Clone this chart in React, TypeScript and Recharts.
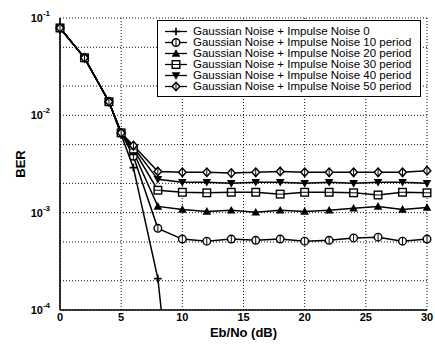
import React from 'react';
import { LineChart, Line, XAxis, YAxis, CartesianGrid } from 'recharts';

// Eb/No sample points (dB)
const ebno = [0, 2, 4, 5, 6, 8, 10, 12, 14, 16, 18, 20, 22, 24, 26, 28, 30];

// BER
const berNoise0 = [0.079, 0.039, 0.0138, 0.0063, 0.0029, 0.00021, 0.000001, null, null, null, null, null, null, null, null, null, null];
const ber10 = [0.079, 0.039, 0.0138, 0.0066, 0.0038, 0.00069, 5.35e-4, 5.1e-4, 5.35e-4, 5.2e-4, 5.35e-4, 5.1e-4, 5.2e-4, 5.5e-4, 5.6e-4, 5.1e-4, 5.35e-4];
const ber20 = [0.079, 0.039, 0.0138, 0.0066, 0.0042, 0.00116, 1.08e-3, 1.03e-3, 1.06e-3, 1.01e-3, 1.06e-3, 1.03e-3, 1.06e-3, 1.11e-3, 1.16e-3, 1.08e-3, 1.13e-3];
const ber30 = [0.079, 0.039, 0.0138, 0.0066, 0.0045, 0.0017, 1.62e-3, 1.6e-3, 1.62e-3, 1.62e-3, 1.55e-3, 1.62e-3, 1.62e-3, 1.6e-3, 1.52e-3, 1.62e-3, 1.6e-3];
const ber40 = [0.079, 0.039, 0.0138, 0.0066, 0.0047, 0.0022, 2.05e-3, 2.05e-3, 2.0e-3, 2.05e-3, 2.05e-3, 2.0e-3, 2.05e-3, 2.0e-3, 2.05e-3, 2.05e-3, 2.0e-3];
const ber50 = [0.079, 0.039, 0.0138, 0.0066, 0.0049, 0.00265, 2.6e-3, 2.6e-3, 2.55e-3, 2.6e-3, 2.65e-3, 2.6e-3, 2.6e-3, 2.6e-3, 2.6e-3, 2.6e-3, 2.7e-3];

const xTicks = [0, 5, 10, 15, 20, 25, 30];
const yTicks = [1e-4, 1e-3, 1e-2, 1e-1];
const decades = [1e-4, 1e-3, 1e-2];
const mantissas = [1, 2, 3, 4, 5, 6, 7, 8, 9];

const series = [
  { key: 'n0', name: 'Gaussian Noise + Impulse Noise 0', shape: 'plus', values: berNoise0 },
  { key: 'n10', name: 'Gaussian Noise + Impulse Noise 10 period', shape: 'circle', values: ber10 },
  { key: 'n20', name: 'Gaussian Noise + Impulse Noise 20 period', shape: 'triUp', values: ber20 },
  { key: 'n30', name: 'Gaussian Noise + Impulse Noise 30 period', shape: 'square', values: ber30 },
  { key: 'n40', name: 'Gaussian Noise + Impulse Noise 40 period', shape: 'triDown', values: ber40 },
  { key: 'n50', name: 'Gaussian Noise + Impulse Noise 50 period', shape: 'diamond', values: ber50 },
];

const data = ebno.map((x, i) => {
  const row: any = { ebno: x };
  series.forEach((s) => { row[s.key] = s.values[i]; });
  return row;
});

const gridY = [...decades.flatMap((d) => mantissas.map((m) => m * d)), 1e-1];

const FONT = '"Liberation Sans", Arial, sans-serif';

function Marker({ shape, cx, cy }: { shape: string; cx: number; cy: number }) {
  const r = 3.8;
  switch (shape) {
    case 'plus':
      return <path d={`M${cx - r},${cy}H${cx + r}M${cx},${cy - r}V${cy + r}`} stroke="#000" strokeWidth={1.7} />;
    case 'circle':
      return (
        <g>
          <circle cx={cx} cy={cy} r={r} fill="#fff" stroke="#000" strokeWidth={1.4} />
          <path d={`M${cx},${cy - r}V${cy + r}`} stroke="#000" strokeWidth={1} />
        </g>
      );
    case 'triUp':
      return <polygon points={`${cx},${cy - r - 0.5} ${cx + r + 0.5},${cy + r - 0.5} ${cx - r - 0.5},${cy + r - 0.5}`} fill="#000" />;
    case 'triDown':
      return <polygon points={`${cx},${cy + r + 0.5} ${cx + r + 0.5},${cy - r + 0.5} ${cx - r - 0.5},${cy - r + 0.5}`} fill="#000" />;
    case 'square':
      return (
        <g>
          <rect x={cx - r} y={cy - r} width={2 * r} height={2 * r} fill="#fff" stroke="#000" strokeWidth={1.4} />
          <path d={`M${cx - r},${cy}H${cx + r}`} stroke="#000" strokeWidth={1} />
        </g>
      );
    default:
      return (
        <g>
          <polygon points={`${cx},${cy - r - 0.5} ${cx + r},${cy} ${cx},${cy + r + 0.5} ${cx - r},${cy}`} fill="#fff" stroke="#000" strokeWidth={1.4} />
          <path d={`M${cx},${cy - r}V${cy + r}`} stroke="#000" strokeWidth={1} />
        </g>
      );
  }
}

const makeDot = (shape: string) => (props: any) => {
  const { cx, cy, index } = props;
  if (cx == null || cy == null || Number.isNaN(cy)) return <g key={`d-${shape}-${index}`} />;
  return <g key={`d-${shape}-${index}`}><Marker shape={shape} cx={cx} cy={cy} /></g>;
};

const PowTick = (props: any) => {
  const { x, y, payload } = props;
  const exp = Math.round(Math.log10(payload.value));
  return (
    <text x={x} y={y} textAnchor="end" fontFamily={FONT} fontWeight="bold" fontSize={11} fill="#000">
      <tspan dy={4}>10</tspan>
      <tspan dy={-6} fontSize={8}>{exp}</tspan>
    </text>
  );
};

const YLabel = (props: any) => {
  const { viewBox } = props;
  const x = viewBox.x + 20;
  const y = viewBox.y + viewBox.height / 2;
  return (
    <text x={x} y={y} transform={`rotate(-90 ${x} ${y})`} textAnchor="middle" dominantBaseline="central"
      fontFamily={FONT} fontWeight="bold" fontSize={13} fill="#000">BER</text>
  );
};

function LegendBox() {
  return (
    <div style={{
      position: 'absolute', left: 157, top: 20, width: 264, height: 77, boxSizing: 'border-box',
      border: '1px solid #000', background: '#fff', padding: '5px 0 0 5px', fontFamily: FONT, fontSize: 11.5,
    }}>
      {series.map((s) => (
        <div key={s.key} style={{ display: 'flex', alignItems: 'center', height: 11 }}>
          <svg width={26} height={11} style={{ marginRight: 4, flex: 'none' }}>
            <line x1={2} y1={5.5} x2={24} y2={5.5} stroke="#000" strokeWidth={1.3} />
            <Marker shape={s.shape} cx={13} cy={5.5} />
          </svg>
          <span style={{ whiteSpace: 'nowrap', lineHeight: '11px' }}>{s.name}</span>
        </div>
      ))}
    </div>
  );
}

export default function App() {
  return (
    <div style={{ position: 'absolute', left: 0, top: 0, width: 435, height: 349, background: '#fff' }}>
      <LineChart width={435} height={349} data={data} margin={{ top: 18, right: 8, left: 0, bottom: 0 }}>
        <CartesianGrid stroke="#111" strokeDasharray="1 2" horizontalValues={gridY} verticalValues={xTicks} />
        <XAxis dataKey="ebno" type="number" domain={[0, 30]} ticks={xTicks} height={39}
          tickLine={false} tickSize={0} tickMargin={3}
          axisLine={{ stroke: '#000', strokeWidth: 1.6 }}
          tick={{ fontFamily: FONT, fontWeight: 'bold', fontSize: 11, fill: '#000' }}
          label={{ value: 'Eb/No (dB)', position: 'insideBottom', offset: 12, fontFamily: FONT, fontWeight: 'bold', fontSize: 13, fill: '#000' }} />
        <YAxis type="number" scale="log" domain={[1e-4, 1e-1]} allowDataOverflow ticks={yTicks} width={60}
          tickLine={false} tickSize={0} tickMargin={10}
          axisLine={{ stroke: '#000', strokeWidth: 1.6 }}
          tick={<PowTick />} label={<YLabel />} />
        {series.map((s) => (
          <Line key={s.key} dataKey={s.key} name={s.name} type="linear" stroke="#000" strokeWidth={1.5}
            dot={makeDot(s.shape)} activeDot={false} connectNulls isAnimationActive={false} />
        ))}
      </LineChart>
      <LegendBox />
    </div>
  );
}
